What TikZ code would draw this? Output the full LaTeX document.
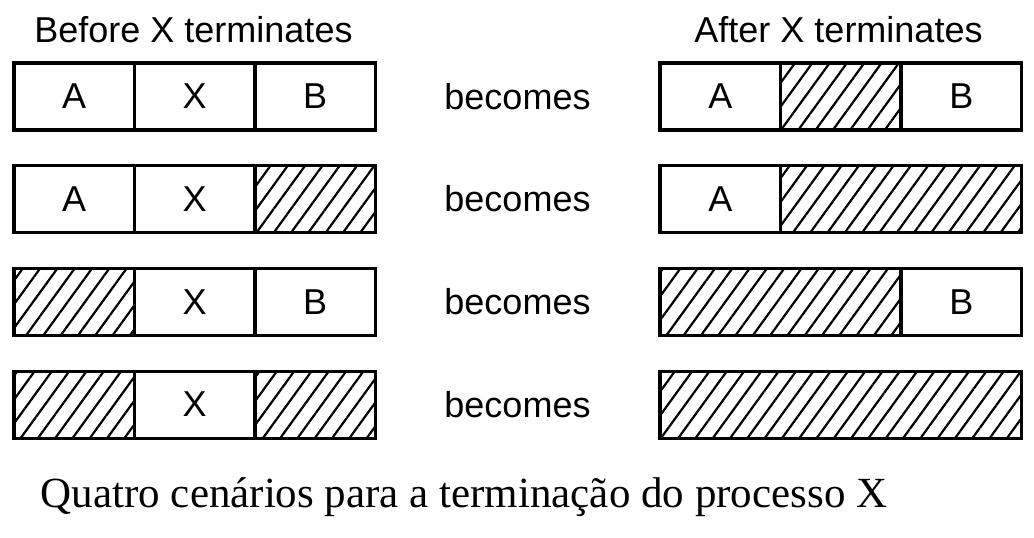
\documentclass[tikz,border=0pt]{standalone}
\usepackage{fontspec}
\setmainfont{Liberation Serif}
\setsansfont{Liberation Sans}
\usetikzlibrary{positioning,patterns.meta}

\tikzset{
    cell/.style={draw, line width=3.2pt, outer sep=0pt, inner sep=0pt,
        minimum height=67pt, minimum width=120.5pt,
        font=\sffamily\fontsize{36}{36}\selectfont},
    freecell/.style={cell, pattern={Lines[angle=54, distance=14pt, line width=2.2pt]}},
    heading/.style={anchor=base, font=\sffamily\fontsize{36}{36}\selectfont},
    caption/.style={anchor=base, font=\fontsize{43}{43}\selectfont}
}

\begin{document}
\begin{tikzpicture}[x=1pt, y=-1pt]

% Size of the picture
\useasboundingbox (0,0) rectangle (1034,538);

% Define the positions
\def\Lx{74.25} % center of first cell before
\def\Rx{720.25} % center of first cell after
\def\Dy{102.7} % distance between rows

% Headings
\node[heading] (before) at (193.5,42) {Before X terminates};
\node[heading] (after) at (838.5,42) {After X terminates};

% Row 1
\node[cell] (b1a) at (\Lx,96.5) {A};
\node[cell, right=0pt of b1a] (b1x) {X};
\node[cell, right=0pt of b1x] (b1b) {B};
\node[cell] (a1a) at (\Rx,96.5) {A};
\node[freecell, right=0pt of a1a] (a1x) {};
\node[cell, right=0pt of a1x] (a1b) {B};

% Row 2
\node[cell] (b2a) at (\Lx,96.5+\Dy) {A};
\node[cell, right=0pt of b2a] (b2x) {X};
\node[freecell, right=0pt of b2x] (b2b) {};
\node[cell] (a2a) at (\Rx,96.5+\Dy) {A};
\node[freecell, minimum width=241pt, right=0pt of a2a] (a2x) {};

% Row 3
\node[freecell] (b3a) at (\Lx,96.5+2*\Dy) {};
\node[cell, right=0pt of b3a] (b3x) {X};
\node[cell, right=0pt of b3x] (b3b) {B};
\node[freecell, minimum width=241pt, anchor=west] (a3a) at (\Rx-60.25,96.5+2*\Dy) {};
\node[cell, right=0pt of a3a] (a3b) {B};

% Row 4
\node[freecell] (b4a) at (\Lx,96.5+3*\Dy) {};
\node[cell, right=0pt of b4a] (b4x) {X};
\node[freecell, right=0pt of b4x] (b4b) {};
\node[freecell, minimum width=361.5pt, anchor=west] (a4a) at (\Rx-60.25,96.5+3*\Dy) {};

% Middle words
\foreach \r in {0,1,2,3} {
    \node[heading] (becomes\r) at (517.5,109+\r*\Dy) {becomes};
}

% Caption
\node[caption] (caption) at (464,507) {Quatro cenários para a terminação do processo X};

\end{tikzpicture}
\end{document}
